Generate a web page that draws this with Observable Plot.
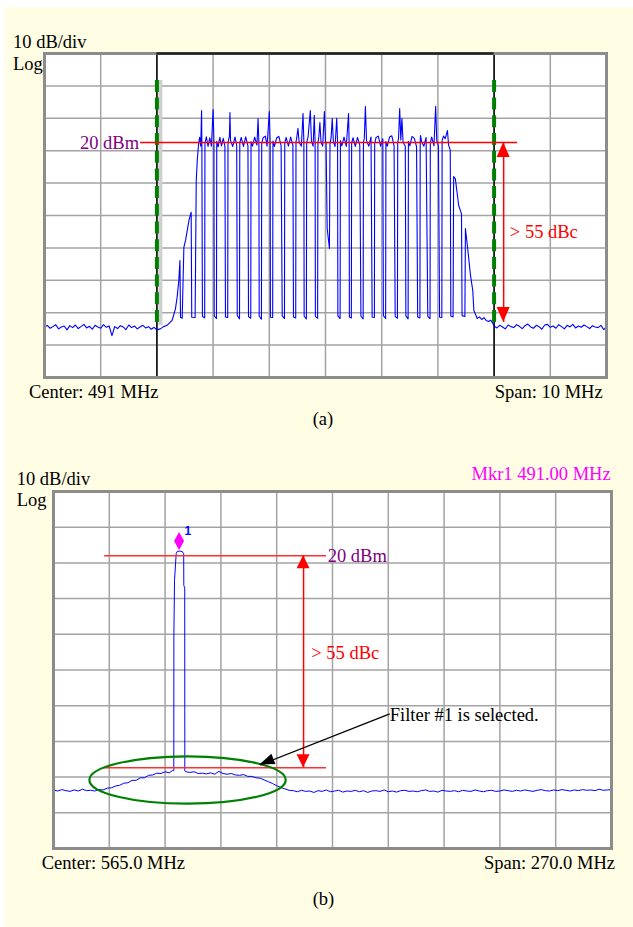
<!DOCTYPE html>
<html><head><meta charset="utf-8">
<script src="https://cdn.jsdelivr.net/npm/d3@7"></script>
<script src="https://cdn.jsdelivr.net/npm/@observablehq/plot@0.6"></script>
<style>
body{margin:0;background:#fff;}
#page{position:relative;width:633px;height:927px;overflow:hidden;font-family:"Liberation Serif","Times New Roman",serif;}
#cream{position:absolute;left:5px;top:7px;right:0;bottom:0;background:#fffde3;}
.t{position:absolute;font-size:18.5px;line-height:18.5px;white-space:nowrap;color:#000;}
.p{position:absolute;left:0;}
</style></head><body>
<div id="page"><div id="cream"></div>
<div class="p" id="plotA" style="top:0"></div>
<div class="p" id="plotB" style="top:440px"></div>
<div class="t" style="left:13px;top:32.8px">10 dB/div</div>
<div class="t" style="left:13px;top:55.2px">Log</div>
<div class="t" style="left:29px;top:382.8px">Center: 491 MHz</div>
<div class="t" style="right:30.3px;top:382.8px">Span: 10 MHz</div>
<div class="t" style="left:312.7px;top:409.5px">(a)</div>
<div class="t" style="left:16.7px;top:469.5px">10 dB/div</div>
<div class="t" style="left:16.7px;top:491.2px">Log</div>
<div class="t" style="right:22.3px;top:464.5px;color:#ff00ff">Mkr1 491.00 MHz</div>
<div class="t" style="left:41.7px;top:853.8px">Center: 565.0 MHz</div>
<div class="t" style="right:18px;top:853.8px">Span: 270.0 MHz</div>
<div class="t" style="left:312.7px;top:889.5px">(b)</div>
</div>
<script>
// ================= Panel (a): Center 491 MHz, Span 10 MHz, 10 dB/div =================
const spanA = [486, 496];
const levelA = [-52.5, 47.5];
const gridFreqA = [487, 488, 489, 490, 491, 492, 493, 494, 495];
const gridLevelA = [37.5, 27.5, 17.5, 7.5, -2.5, -12.5, -22.5, -32.5, -42.5];
const filterEdgesA = [488, 494];
const dashSpanA = [{top: 39.2, bottom: -36.5}];
const refLevelA = [{f1: 487.71, f2: 494.42, dBm: 20}];
const arrowA = [{f: 494.17, top: 20, bottom: -35.5}];
const noiseStartA = 486.0, noiseRightStartA = 494.0, noiseStepA = 0.05;
const noiseLeftA = [-37.0,-36.4,-37.3,-36.8,-36.2,-37.5,-36.9,-36.6,-37.8,-36.5,-37.1,-36.3,-37.4,-36.8,-36.1,-37.2,-36.7,-37.6,-36.4,-36.9,-37.3,-36.2,-37.0,-36.6,-39.6,-36.8,-37.4,-36.5,-36.9,-37.7,-36.3,-37.1,-36.6,-37.5,-36.9,-36.4,-37.2,-36.8,-37.6,-37.0,-37.8];
const noiseRightA = [-36.6,-37.2,-36.4,-36.9,-37.5,-36.3,-36.8,-37.1,-36.2,-36.7,-37.4,-36.5,-36.0,-36.9,-37.3,-36.4,-36.8,-37.6,-36.3,-36.1,-37.0,-36.6,-37.3,-36.2,-36.8,-37.5,-36.4,-36.9,-36.1,-37.2,-36.6,-37.0,-36.3,-36.8,-37.4,-36.5,-36.9,-37.1,-36.4,-37.7,-36.8];
const traceA = [
[488.06,-37.5],[488.12,-36.8],[488.18,-36.4],[488.27,-34.9],[488.33,-31.3],[488.36,-27.7],[488.39,-22.6],[488.41,-16.4],[488.42,-33.9],[488.45,-34.2],[488.48,-12.3],[488.51,-10.2],[488.54,-7.1],[488.57,-4.0],[488.60,-2.0],[488.61,-1.5],[488.62,-33.9],[488.68,-34.0],[488.70,8.3],[488.72,15.0],
[488.74,19.2],[488.76,21.6],[488.78,18.9],[488.795,29.9],[488.80,20.2],
[488.81,-33.6],[488.85,-34.1],[488.855,19.8],
[488.88,21.8],[488.91,18.8],[488.94,21.5],[488.97,18.9],[489.00,30.2],[489.015,20.0],
[489.02,-33.5],[489.06,-34.3],[489.065,20.4],
[489.09,18.7],[489.12,21.6],[489.15,19.0],[489.18,21.3],[489.21,18.9],
[489.22,-33.8],[489.26,-34.0],[489.265,20.1],
[489.29,21.9],[489.30,29.3],[489.31,20.6],[489.35,18.8],[489.39,21.7],[489.42,19.1],
[489.43,-33.4],[489.47,-34.4],[489.475,19.9],
[489.50,21.6],[489.54,18.8],[489.58,21.8],[489.62,19.0],
[489.63,-33.7],[489.67,-34.2],[489.675,20.3],
[489.70,18.9],[489.74,21.7],[489.78,19.2],[489.80,27.4],[489.815,20.0],
[489.82,-33.6],[489.86,-34.5],[489.865,19.7],
[489.89,21.5],[489.93,22.0],[489.96,18.9],[490.00,29.6],[490.015,20.2],
[490.02,-33.9],[490.06,-34.0],[490.065,20.5],
[490.09,18.8],[490.13,21.4],[490.17,21.9],[490.21,19.0],
[490.23,-33.5],[490.27,-34.3],[490.275,19.9],
[490.30,21.6],[490.34,18.9],[490.38,21.7],[490.42,19.1],
[490.43,-33.8],[490.47,-34.1],[490.475,20.2],
[490.49,21.7],[490.51,24.4],[490.53,20.1],[490.57,18.9],[490.60,29.0],[490.615,20.3],
[490.62,-33.6],[490.66,-34.4],[490.665,20.0],
[490.69,21.8],[490.73,29.9],[490.75,20.4],[490.78,18.9],[490.80,28.4],[490.815,20.1],
[490.82,-33.7],[490.86,-34.2],[490.865,19.8],
[490.88,21.5],[490.90,26.2],[490.92,20.2],[490.95,18.9],[490.98,29.6],[491.00,20.4],
[491.01,19.9],[491.03,-6.5],[491.07,-12.7],[491.08,19.6],
[491.10,21.6],[491.12,27.4],[491.14,20.3],[491.17,18.8],[491.20,27.5],[491.215,20.2],
[491.22,-33.5],[491.26,-34.3],[491.265,20.6],
[491.29,19.0],[491.33,21.7],[491.37,18.8],[491.41,29.0],[491.42,20.3],
[491.425,-33.8],[491.46,-34.1],[491.465,19.8],
[491.49,21.5],[491.53,18.8],[491.57,21.6],[491.61,19.2],
[491.63,-33.6],[491.67,-34.4],[491.675,20.1],
[491.69,21.3],[491.71,31.1],[491.73,20.6],[491.77,18.9],[491.81,21.7],
[491.83,-33.9],[491.87,-34.0],[491.875,19.6],
[491.90,21.6],[491.94,22.0],[491.98,18.9],[492.02,21.2],
[492.03,-33.4],[492.07,-34.3],[492.075,20.3],
[492.10,18.9],[492.14,21.7],[492.18,22.1],[492.22,19.1],
[492.24,-33.7],[492.28,-34.2],[492.285,20.0],
[492.30,21.4],[492.32,30.5],[492.34,20.8],[492.36,27.4],[492.38,20.1],[492.42,18.9],
[492.43,-33.5],[492.47,-34.4],[492.475,20.4],
[492.50,19.0],[492.54,21.9],[492.58,21.3],[492.62,18.8],
[492.64,-33.8],[492.68,-34.1],[492.685,20.2],
[492.69,22.2],[492.71,20.3],[492.75,18.9],[492.79,21.6],
[492.82,-33.6],[492.86,-34.3],[492.865,19.9],
[492.89,21.7],[492.93,19.0],[492.96,31.2],[492.98,20.6],[493.01,18.9],
[493.03,-33.9],[493.07,-34.0],[493.075,20.7],
[493.10,22.0],[493.13,21.2],[493.17,23.7],[493.19,19.2],[493.21,18.2],
[493.22,17.5],[493.23,-33.5],[493.27,-33.8],[493.28,9.5],[493.31,8.9],[493.37,0.6],[493.42,-2.0],[493.43,-33.4],[493.48,-33.7],[493.49,-6.5],[493.53,-12.7],[493.58,-21.0],[493.62,-25.6],[493.64,-31.8],[493.70,-34.3],
[493.74,-33.8],[493.78,-34.6],[493.82,-34.0],[493.86,-34.9],[493.90,-35.2],[493.94,-34.8],[493.98,-35.9]
];
const refLabelA = [{f: 487.71, dBm: 20, text: "20 dBm"}];
const dbcLabelA = [{f: 494.28, dBm: -7.56, text: "> 55 dBc"}];

// ================= Panel (b): Center 565 MHz, Span 270 MHz, 10 dB/div =================
const spanB = [430, 700];
const levelB = [-62, 38];
const gridFreqB = [457, 484, 511, 538, 565, 592, 619, 646, 673];
const gridLevelB = [28, 18, 8, -2, -12, -22, -32, -42, -52];
const refLinesB = [{f1: 454.7, f2: 562.1, dBm: 20}, {f1: 454.7, f2: 562.1, dBm: -39.4}];
const arrowB = [{f: 551.0, top: 20, bottom: -39.4}];
const markerB = [{f: 491.0, dBm: 24.0}];
const markerLabelB = [{f: 493.4, dBm: 26.8, text: "1"}];
const ellipseB = [{f: 495.1, dBm: -42.95, rf: 47.5, rdB: 6.64}];
const calloutB = [{f1: 592.7, dBm1: -24.3, f2: 529.9, dBm2: -38.6}];
const labelsB = [
  {f: 562.7, dBm: 20, text: "20 dBm", color: "#800080", dy: 1.5},
  {f: 554.7, dBm: -7.2, text: "> 55 dBc", color: "#ff0000", dy: 0},
  {f: 592.7, dBm: -24.5, text: "Filter #1 is selected.", color: "#000000", dy: 0}
];
const traceB = [
[430,-45.6],[432,-45.9],[434,-45.5],[436,-45.8],[438,-46.0],[440,-45.6],[442,-45.9],[444,-45.4],[446,-45.8],[448,-45.7],
[450,-45.9],[452,-45.5],[454,-45.6],[456,-45.1],[458,-45.0],[460,-44.5],[462,-44.3],[464,-43.7],[466,-43.6],[468,-42.9],
[470,-42.9],[472,-42.2],[474,-42.2],[476,-41.5],[478,-41.4],[480,-40.9],[482,-41.0],[484,-40.5],[486,-40.8],[487.5,-40.2],
[488.21,-40.2],[488.25,-2.8],[488.55,13.1],[489.37,20.6],[489.86,21.2],[491.0,21.3],[492.28,21.2],[493.0,20.6],[493.05,11.7],[493.5,11.0],[493.54,-40.3],
[494,-40.5],[496,-40.7],[498,-40.5],[500,-41.0],[502,-40.9],[504,-41.1],[506,-40.8],[508,-41.2],[510,-40.4],[512,-41.0],
[514,-41.2],[516,-41.0],[518,-41.4],[520,-41.5],[522,-41.3],[524,-41.8],[526,-41.8],[528,-42.2],[530,-42.3],[532,-42.8],
[534,-43.3],[536,-43.8],[538,-44.4],[540,-44.9],[542,-45.3],[544,-45.7]
];
const noiseStartB = 546, noiseStepB = 2;
const noiseRightB = [-45.8,-46.1,-45.7,-46.0,-45.9,-46.3,-45.8,-46.0,-45.6,-46.1,-45.9,-45.7,-46.2,-45.9,-46.0,-45.7,-46.1,-45.8,-46.3,-45.9,
 -45.8,-46.0,-45.6,-46.1,-45.9,-46.2,-45.8,-45.7,-46.0,-45.9,-46.1,-45.8,-45.6,-46.0,-45.9,-46.2,-45.7,-45.9,-46.0,-45.8,
 -46.1,-45.7,-45.9,-46.0,-45.6,-45.9,-46.1,-45.8,-45.7,-46.0,-45.9,-45.6,-45.8,-46.0,-45.7,-45.9,-45.6,-45.8,-46.0,-45.7,
 -45.5,-45.8,-45.9,-45.6,-45.8,-45.5,-45.7,-45.9,-45.6,-45.8,-45.5,-45.7,-45.6,-45.8,-45.4,-45.7,-45.6,-45.5];

// ================= helpers =================
const FONT = '"Liberation Serif","Times New Roman",serif';
const GRID = "#a3a3a3", BORDER = "#8c8c8c", TRACE = "#0000ff", RED = "#ff0000";

function arrowHeads(data, fill, len, half) {
  return (index, scales) => {
    const g = d3.create("svg:g").attr("fill", fill);
    for (const d of data) {
      const x1 = scales.x(d.x1), y1 = scales.y(d.y1), x2 = scales.x(d.x2), y2 = scales.y(d.y2);
      const a = Math.atan2(y2 - y1, x2 - x1);
      const bx = x2 - len * Math.cos(a), by = y2 - len * Math.sin(a);
      const px = -Math.sin(a) * half, py = Math.cos(a) * half;
      g.append("path").attr("d", `M${x2},${y2}L${bx + px},${by + py}L${bx - px},${by - py}Z`);
    }
    return g.node();
  };
}
function ellipses(data, stroke, width) {
  return (index, scales) => {
    const g = d3.create("svg:g");
    for (const d of data) {
      const cx = scales.x(d.f), cy = scales.y(d.dBm);
      g.append("ellipse").attr("cx", cx).attr("cy", cy)
        .attr("rx", Math.abs(scales.x(d.f + d.rf) - cx))
        .attr("ry", Math.abs(scales.y(d.dBm + d.rdB) - cy))
        .attr("fill", "none").attr("stroke", stroke).attr("stroke-width", width);
    }
    return g.node();
  };
}
function diamonds(data, fill, hw, hh) {
  return (index, scales) => {
    const g = d3.create("svg:g").attr("fill", fill);
    for (const d of data) {
      const x = scales.x(d.f), y = scales.y(d.dBm);
      g.append("path").attr("d", `M${x},${y - hh}L${x + hw},${y}L${x},${y + hh}L${x - hw},${y}Z`);
    }
    return g.node();
  };
}

// ================= Panel (a) =================
const fullA = [
  ...noiseLeftA.map((v, i) => [noiseStartA + i * noiseStepA, v]),
  ...traceA,
  ...noiseRightA.map((v, i) => [noiseRightStartA + i * noiseStepA, v])
];
const arrowEndsA = [
  {x1: arrowA[0].f, y1: arrowA[0].bottom, x2: arrowA[0].f, y2: arrowA[0].top},
  {x1: arrowA[0].f, y1: arrowA[0].top, x2: arrowA[0].f, y2: arrowA[0].bottom}
];
const chartA = Plot.plot({
  width: 633, height: 440,
  marginLeft: 44, marginRight: 27, marginTop: 53, marginBottom: 63,
  x: {domain: spanA, axis: null},
  y: {domain: levelA, axis: null},
  style: {background: "transparent", overflow: "visible", fontFamily: FONT},
  marks: [
    Plot.frame({fill: "white", stroke: "none"}),
    Plot.ruleX(gridFreqA, {stroke: GRID, strokeWidth: 1.5}),
    Plot.ruleY(gridLevelA, {stroke: GRID, strokeWidth: 1.5}),
    Plot.ruleX([filterEdgesA[0]], {dx: 3.5, y1: () => dashSpanA[0].top, y2: () => dashSpanA[0].bottom, stroke: "#cfcfcf", strokeWidth: 4}),
    Plot.ruleX(filterEdgesA, {stroke: "#000", strokeWidth: 1.5}),
    Plot.ruleX(filterEdgesA, {y1: () => dashSpanA[0].top, y2: () => dashSpanA[0].bottom, stroke: "#008000", strokeWidth: 4, strokeDasharray: "12,5.7"}),
    Plot.line(fullA, {x: d => d[0], y: d => d[1], stroke: TRACE, strokeWidth: 1.1}),
    Plot.ruleY(refLevelA, {x1: "f1", x2: "f2", y: "dBm", stroke: RED, strokeWidth: 1.5}),
    Plot.ruleX(arrowA, {x: "f", y1: "top", y2: "bottom", stroke: RED, strokeWidth: 1.5}),
    arrowHeads(arrowEndsA, RED, 15, 6.5),
    Plot.frame({stroke: BORDER, strokeWidth: 3}),
    Plot.ruleY([levelA[1]], {x1: () => filterEdgesA[0], x2: () => filterEdgesA[1], stroke: "#222", strokeWidth: 2.5}),
    Plot.text(refLabelA, {x: "f", y: "dBm", text: "text", fill: "#800080", textAnchor: "end", dx: -1.5, fontSize: 18.5, fontFamily: FONT}),
    Plot.text(dbcLabelA, {x: "f", y: "dBm", text: "text", fill: RED, textAnchor: "start", fontSize: 18.5, fontFamily: FONT})
  ]
});
document.getElementById("plotA").appendChild(chartA);

// ================= Panel (b) =================
const fullB = [
  ...traceB,
  ...noiseRightB.map((v, i) => [noiseStartB + i * noiseStepB, v])
];
const arrowEndsB = [
  {x1: arrowB[0].f, y1: arrowB[0].bottom, x2: arrowB[0].f, y2: arrowB[0].top},
  {x1: arrowB[0].f, y1: arrowB[0].top, x2: arrowB[0].f, y2: arrowB[0].bottom}
];
const calloutEndsB = calloutB.map(d => ({x1: d.f1, y1: d.dBm1, x2: d.f2, y2: d.dBm2}));
const chartB = Plot.plot({
  width: 633, height: 487,
  marginLeft: 53, marginRight: 22, marginTop: 51, marginBottom: 79,
  x: {domain: spanB, axis: null},
  y: {domain: levelB, axis: null},
  style: {background: "transparent", overflow: "visible", fontFamily: FONT},
  marks: [
    Plot.frame({fill: "white", stroke: "none"}),
    Plot.ruleX(gridFreqB, {stroke: GRID, strokeWidth: 1.5}),
    Plot.ruleY(gridLevelB, {stroke: GRID, strokeWidth: 1.5}),
    Plot.line(fullB, {x: d => d[0], y: d => d[1], stroke: TRACE, strokeWidth: 1}),
    Plot.ruleY(refLinesB, {x1: "f1", x2: "f2", y: "dBm", stroke: "#ff3030", strokeWidth: 1.5}),
    Plot.ruleX(arrowB, {x: "f", y1: "top", y2: "bottom", stroke: RED, strokeWidth: 1.5}),
    arrowHeads(arrowEndsB, RED, 13, 6.5),
    ellipses(ellipseB, "#008000", 2.2),
    Plot.link(calloutEndsB, {x1: "x1", y1: "y1", x2: "x2", y2: "y2", stroke: "#000", strokeWidth: 1.2}),
    arrowHeads(calloutEndsB, "#000", 15, 5.5),
    diamonds(markerB, "#ff00ff", 5, 9),
    Plot.text(markerLabelB, {x: "f", y: "dBm", text: "text", fill: "#0000ff", textAnchor: "start", fontSize: 12, fontWeight: "bold", fontFamily: "Liberation Sans, Arial, sans-serif"}),
    Plot.frame({stroke: BORDER, strokeWidth: 3}),
    Plot.text(labelsB, {x: "f", y: "dBm", text: "text", fill: "color", textAnchor: "start", dy: 0.5, fontSize: 18.5, fontFamily: FONT})
  ]
});
document.getElementById("plotB").appendChild(chartB);
</script>
</body></html>
